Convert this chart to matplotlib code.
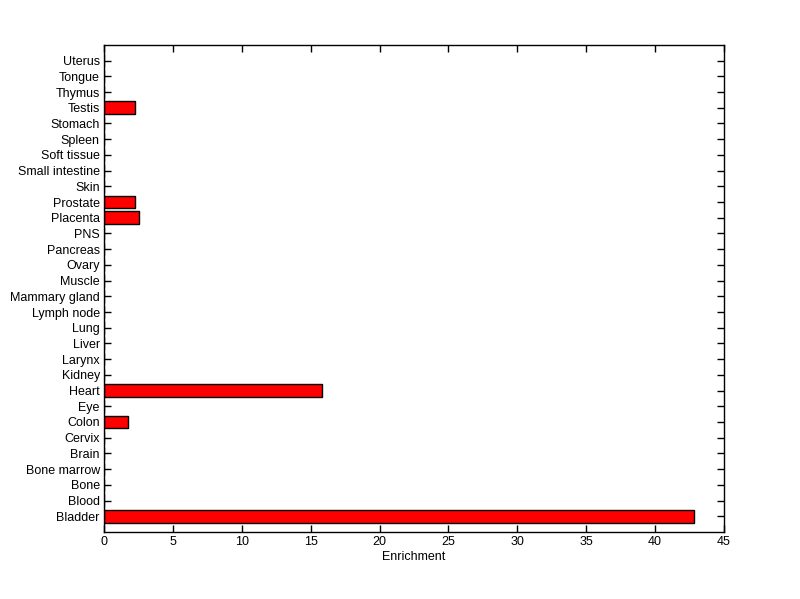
import matplotlib
matplotlib.use('Agg')
import matplotlib.pyplot as plt

tissues = ['Bladder', 'Blood', 'Bone', 'Bone marrow', 'Brain', 'Cervix', 'Colon', 'Eye',
           'Heart', 'Kidney', 'Larynx', 'Liver', 'Lung', 'Lymph node', 'Mammary gland',
           'Muscle', 'Ovary', 'Pancreas', 'PNS', 'Placenta', 'Prostate', 'Skin',
           'Small intestine', 'Soft tissue', 'Spleen', 'Stomach', 'Testis', 'Thymus',
           'Tongue', 'Uterus']
enrichment = [42.8, 0, 0, 0, 0, 0, 1.72, 0, 15.8, 0, 0, 0, 0, 0, 0,
              0, 0, 0, 0, 2.56, 2.27, 0, 0, 0, 0, 0, 2.27, 0, 0, 0]

plt.rcParams['font.family'] = ['Liberation Sans', 'DejaVu Sans']
plt.rcParams['font.size'] = 9

fig = plt.figure(figsize=(8, 5.99), dpi=100)
ax = fig.add_axes([0.13, 0.1119, 0.775, 0.8131])
ax.set_axisbelow(True)

pos = list(range(1, len(tissues) + 1))
ax.barh(pos, enrichment, height=0.8, color='#ff0000', edgecolor='black', linewidth=1)

ax.set_xlim(0, 45)
ax.set_ylim(0, len(tissues) + 1)
ax.set_xticks(range(0, 46, 5))
ax.set_yticks(pos)
ax.set_yticklabels(tissues)
ax.set_xlabel('Enrichment', labelpad=2)

ax.tick_params(direction='in', top=True, right=True, length=5, width=1, pad=3)
for s in ax.spines.values():
    s.set_linewidth(1)

fig.savefig('out.png', dpi=100)
plt.close()
